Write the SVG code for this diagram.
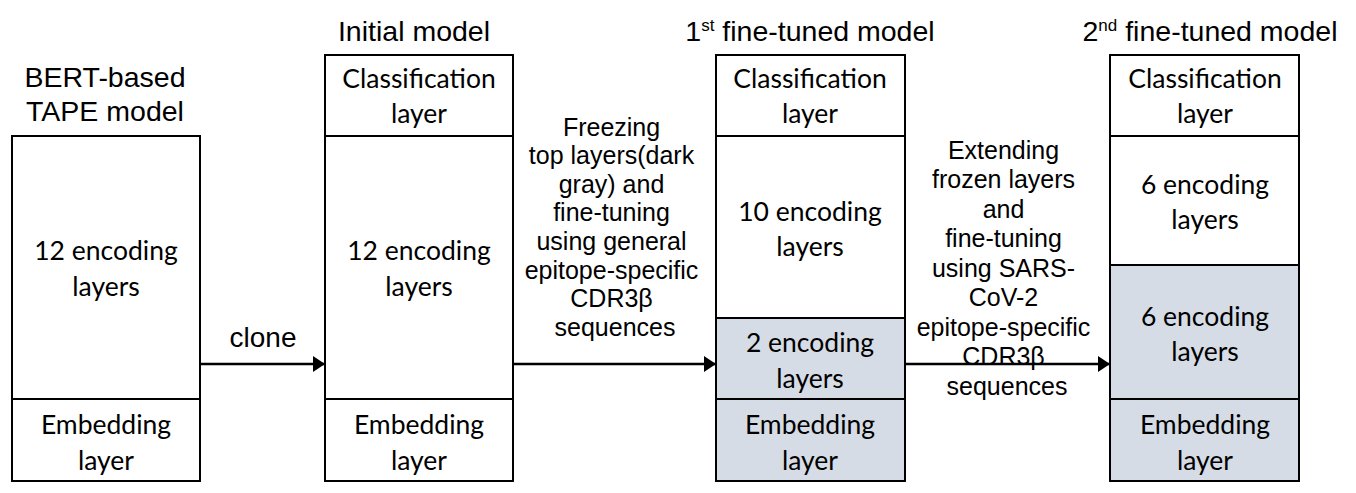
<svg xmlns="http://www.w3.org/2000/svg" width="1356" height="493" viewBox="0 0 1356 493">
<style>
.box{fill:#fff;stroke:#000;stroke-width:2}
.gray{fill:#D6DCE5;stroke:#000;stroke-width:2}
.div{stroke:#000;stroke-width:2}
.cal{font-family:Lato,"Open Sans",sans-serif;font-size:26.5px;fill:#000;text-anchor:middle}
.ttl{font-family:"Liberation Sans",Arial,sans-serif;font-size:28.5px;fill:#000;text-anchor:middle}
.lbl{font-family:"Liberation Sans",Arial,sans-serif;font-size:25px;fill:#000;text-anchor:middle}
.sup{font-size:17px}
.conn{stroke:#000;stroke-width:2.5;fill:none;marker-end:url(#arr)}
</style>
<defs>
<marker id="arr" markerUnits="userSpaceOnUse" markerWidth="14" markerHeight="16" refX="12" refY="8" orient="auto">
<path d="M0,0 L12,8 L0,16 Z" fill="#000"/>
</marker>
</defs>
<g id="connectors">
<line class="conn" x1="200" y1="364" x2="325" y2="364"/>
<line class="conn" x1="513" y1="364" x2="716" y2="364"/>
<line class="conn" x1="905" y1="364" x2="1110" y2="364"/>
</g>
<g id="bert">
<text class="ttl" x="105" y="87">BERT-based</text>
<text class="ttl" x="105" y="121">TAPE model</text>
<rect class="box" x="12" y="136" width="188" height="345"/>
<line class="div" x1="12" y1="399" x2="200" y2="399"/>
<text class="cal" x="106" y="260">12 encoding</text>
<text class="cal" x="106" y="296">layers</text>
<text class="cal" x="106" y="434">Embedding</text>
<text class="cal" x="106" y="470">layer</text>
</g>
<g id="initial">
<text class="ttl" x="414" y="41">Initial model</text>
<rect class="box" x="325" y="55" width="188" height="426"/>
<line class="div" x1="325" y1="136" x2="513" y2="136"/>
<line class="div" x1="325" y1="399" x2="513" y2="399"/>
<text class="cal" x="419" y="88">Classification</text>
<text class="cal" x="419" y="123">layer</text>
<text class="cal" x="419" y="260">12 encoding</text>
<text class="cal" x="419" y="296">layers</text>
<text class="cal" x="419" y="434">Embedding</text>
<text class="cal" x="419" y="470">layer</text>
</g>
<g id="ft1">
<text class="ttl" x="810" y="41">1<tspan class="sup" dy="-10">st</tspan><tspan dy="10"> fine-tuned model</tspan></text>
<rect class="box" x="716" y="55" width="189" height="426"/>
<rect class="gray" x="716" y="318" width="189" height="163"/>
<line class="div" x1="716" y1="136" x2="905" y2="136"/>
<line class="div" x1="716" y1="399" x2="905" y2="399"/>
<text class="cal" x="810" y="88">Classification</text>
<text class="cal" x="810" y="123">layer</text>
<text class="cal" x="810" y="221">10 encoding</text>
<text class="cal" x="810" y="256">layers</text>
<text class="cal" x="810" y="352">2 encoding</text>
<text class="cal" x="810" y="388">layers</text>
<text class="cal" x="810" y="434">Embedding</text>
<text class="cal" x="810" y="470">layer</text>
</g>
<g id="ft2">
<text class="ttl" x="1210" y="41">2<tspan class="sup" dy="-10">nd</tspan><tspan dy="10"> fine-tuned model</tspan></text>
<rect class="box" x="1110" y="55" width="189" height="426"/>
<rect class="gray" x="1110" y="265" width="189" height="216"/>
<line class="div" x1="1110" y1="136" x2="1299" y2="136"/>
<line class="div" x1="1110" y1="399" x2="1299" y2="399"/>
<text class="cal" x="1205" y="88">Classification</text>
<text class="cal" x="1205" y="123">layer</text>
<text class="cal" x="1205" y="194">6 encoding</text>
<text class="cal" x="1205" y="229">layers</text>
<text class="cal" x="1205" y="326">6 encoding</text>
<text class="cal" x="1205" y="361">layers</text>
<text class="cal" x="1205" y="434">Embedding</text>
<text class="cal" x="1205" y="470">layer</text>
</g>
<g id="labels">
<text class="ttl" x="263" y="347" style="font-size:28px">clone</text>
<text class="lbl" x="615">
<tspan x="615" y="136">Freezing</tspan>
<tspan x="615" y="164">top layers(dark</tspan>
<tspan x="615" y="193">gray) and</tspan>
<tspan x="615" y="221">fine-tuning</tspan>
<tspan x="615" y="250">using general</tspan>
<tspan x="615" y="279">epitope-specific</tspan>
<tspan x="615" y="307">CDR3β</tspan>
<tspan x="615" y="336">sequences</tspan>
</text>
<text class="lbl" x="1007">
<tspan x="1007" y="159">Extending</tspan>
<tspan x="1007" y="188">frozen layers</tspan>
<tspan x="1007" y="218">and</tspan>
<tspan x="1007" y="247">fine-tuning</tspan>
<tspan x="1007" y="277">using SARS-</tspan>
<tspan x="1007" y="306">CoV-2</tspan>
<tspan x="1007" y="336">epitope-specific</tspan>
<tspan x="1007" y="365">CDR3β</tspan>
<tspan x="1007" y="395">sequences</tspan>
</text>
</g>
</svg>
